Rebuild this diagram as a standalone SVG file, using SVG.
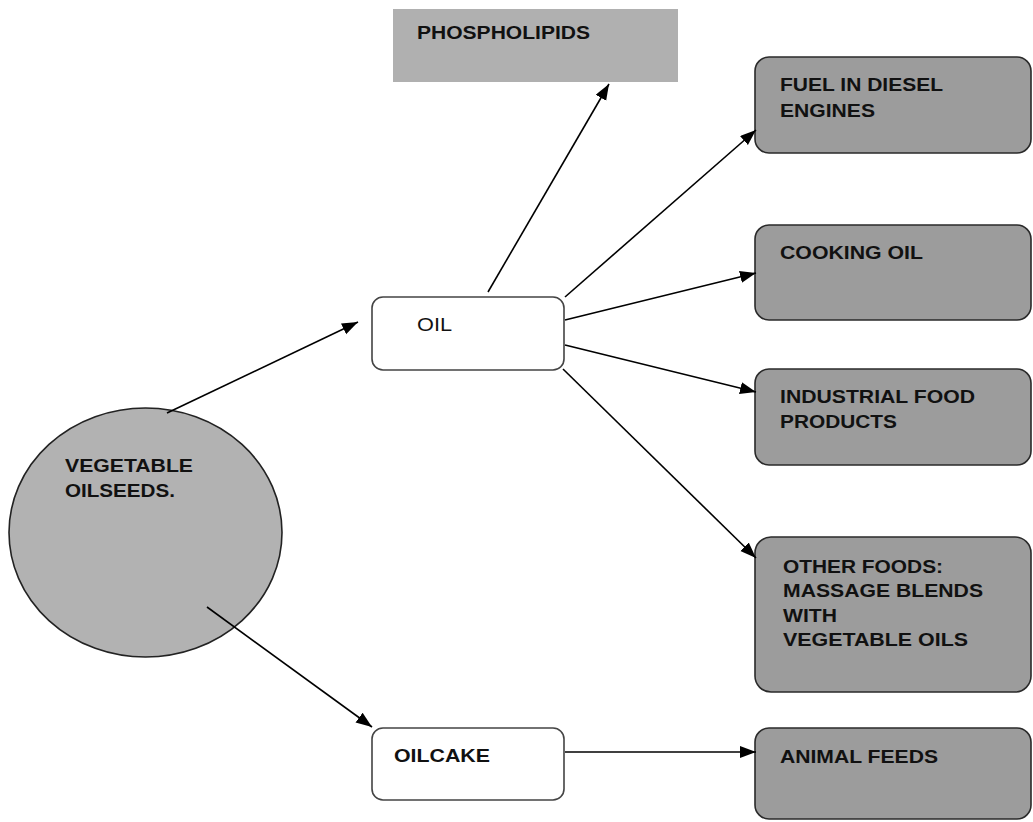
<svg xmlns="http://www.w3.org/2000/svg" width="1033" height="822" viewBox="0 0 1033 822">
<style>
  .t { font-family: "Liberation Sans", Arial, sans-serif; font-size: 18px; font-weight: bold; fill: #111; }
  .tn { font-family: "Liberation Sans", Arial, sans-serif; font-size: 18px; fill: #111; }
  .leaf { fill: #9c9c9c; stroke: #2a2a2a; stroke-width: 1.6; }
  .mid { fill: #ffffff; stroke: #444; stroke-width: 1.6; }
  .conn { fill: none; stroke: #000; stroke-width: 1.6; }
</style>
<defs>
  <marker id="ah" markerUnits="userSpaceOnUse" markerWidth="17" markerHeight="13" refX="16" refY="6" orient="auto">
    <path d="M0,0 L16,6 L0,12 z" fill="#000"/>
  </marker>
</defs>
<rect width="1033" height="822" fill="#ffffff"/>

<g id="phospholipids">
  <rect x="393" y="9" width="285" height="73" fill="#b0b0b0"/>
  <text class="t" x="417" y="39" textLength="173" lengthAdjust="spacingAndGlyphs">PHOSPHOLIPIDS</text>
</g>

<g id="fuel">
  <rect class="leaf" x="755" y="57" width="276" height="96" rx="14"/>
  <text class="t" x="780" y="91" textLength="163" lengthAdjust="spacingAndGlyphs">FUEL IN DIESEL</text>
  <text class="t" x="780" y="117" textLength="95" lengthAdjust="spacingAndGlyphs">ENGINES</text>
</g>

<g id="cooking">
  <rect class="leaf" x="755" y="225" width="276" height="95" rx="14"/>
  <text class="t" x="780" y="259" textLength="143" lengthAdjust="spacingAndGlyphs">COOKING OIL</text>
</g>

<g id="industrial">
  <rect class="leaf" x="755" y="369" width="276" height="96" rx="14"/>
  <text class="t" x="780" y="403" textLength="195" lengthAdjust="spacingAndGlyphs">INDUSTRIAL FOOD</text>
  <text class="t" x="780" y="428" textLength="117" lengthAdjust="spacingAndGlyphs">PRODUCTS</text>
</g>

<g id="other">
  <rect class="leaf" x="755" y="537" width="276" height="155" rx="16"/>
  <text class="t" x="783" y="573" textLength="160" lengthAdjust="spacingAndGlyphs">OTHER FOODS:</text>
  <text class="t" x="783" y="597" textLength="200" lengthAdjust="spacingAndGlyphs">MASSAGE BLENDS</text>
  <text class="t" x="783" y="622" textLength="54" lengthAdjust="spacingAndGlyphs">WITH</text>
  <text class="t" x="783" y="646" textLength="185" lengthAdjust="spacingAndGlyphs">VEGETABLE OILS</text>
</g>

<g id="animal">
  <rect class="leaf" x="755" y="728" width="276" height="91" rx="14"/>
  <text class="t" x="780" y="763" textLength="158" lengthAdjust="spacingAndGlyphs">ANIMAL FEEDS</text>
</g>

<g id="seeds">
  <ellipse cx="145.5" cy="532.5" rx="136.5" ry="124.5" fill="#b2b2b2" stroke="#222" stroke-width="1.6"/>
  <text class="t" x="65" y="472" textLength="128" lengthAdjust="spacingAndGlyphs">VEGETABLE</text>
  <text class="t" x="65" y="497" textLength="110" lengthAdjust="spacingAndGlyphs">OILSEEDS.</text>
</g>

<g id="oil">
  <rect class="mid" x="372" y="297" width="192" height="73" rx="11"/>
  <text class="tn" x="417" y="331" textLength="35" lengthAdjust="spacingAndGlyphs">OIL</text>
</g>

<g id="oilcake">
  <rect class="mid" x="372" y="728" width="192" height="72" rx="11"/>
  <text class="t" x="394" y="762" textLength="96" lengthAdjust="spacingAndGlyphs">OILCAKE</text>
</g>

<g id="connectors">
  <line class="conn" x1="167" y1="413" x2="358" y2="322" marker-end="url(#ah)"/>
  <line class="conn" x1="207" y1="607" x2="372" y2="727" marker-end="url(#ah)"/>
  <line class="conn" x1="488" y1="292" x2="609" y2="84" marker-end="url(#ah)"/>
  <line class="conn" x1="565" y1="297" x2="756" y2="130" marker-end="url(#ah)"/>
  <line class="conn" x1="565" y1="320" x2="756" y2="273" marker-end="url(#ah)"/>
  <line class="conn" x1="565" y1="345" x2="756" y2="392" marker-end="url(#ah)"/>
  <line class="conn" x1="563" y1="369" x2="756" y2="558" marker-end="url(#ah)"/>
  <line class="conn" x1="565" y1="752" x2="756" y2="752" marker-end="url(#ah)"/>
</g>
</svg>
